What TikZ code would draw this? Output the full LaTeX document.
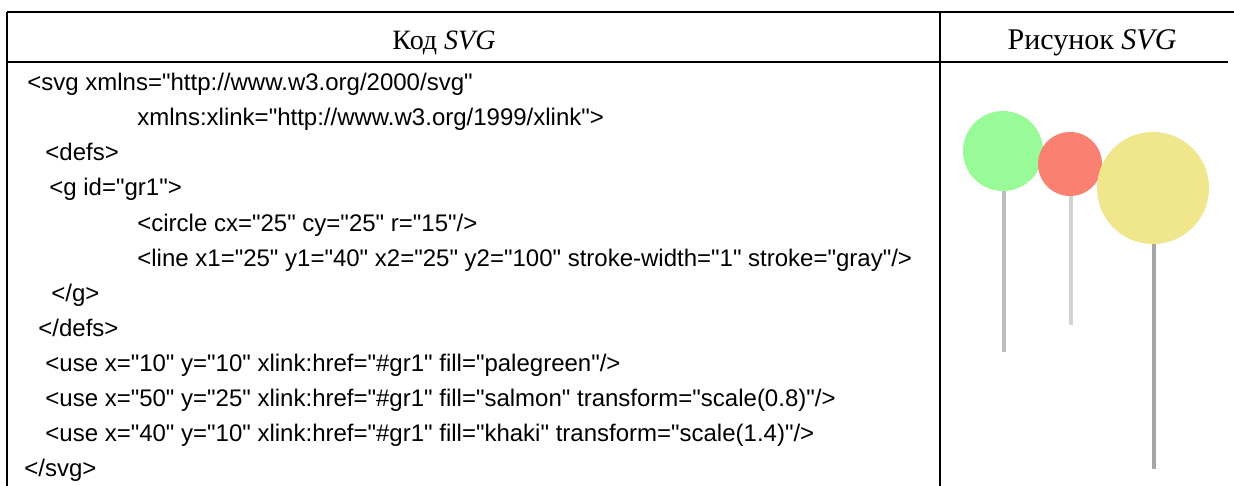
\documentclass[tikz,border=0pt]{standalone}
\usepackage{fontspec}
\setmainfont{Liberation Serif}
\newfontfamily\codefont{Liberation Sans}
\definecolor{palegreenc}{HTML}{98FB98}
\definecolor{salmonc}{HTML}{FA8072}
\definecolor{khakic}{HTML}{F0E68C}
\definecolor{stemA}{HTML}{BDBDBD}
\definecolor{stemB}{HTML}{D2D2D2}
\definecolor{stemC}{HTML}{A6A6A6}
\tikzset{
  rule/.style={line width=1.1pt, black},
  thinrule/.style={line width=0.6pt, black},
  codeline/.style={anchor=base west, inner sep=0pt, font=\codefont\fontsize{12pt}{14pt}\selectfont},
  headtext/.style={anchor=base, inner sep=0pt, font=\fontsize{14pt}{16pt}\selectfont},
}
\begin{document}
\begin{tikzpicture}[x=0.5pt,y=-0.5pt]
\useasboundingbox (0,0) rectangle (1234,486);
\fill[white] (0,0) rectangle (1234,486);
% table rules
\draw[rule] (7,12) -- (1234,12);
\draw[rule] (7,62) -- (956,62);
\draw[thinrule] (956,62) -- (1228,62);
\draw[rule] (7,12) -- (7,486);
\draw[rule] (940,12) -- (940,486);
% headers
\node[headtext] (h1) at (444,50) {Код \textit{SVG}};
\node[headtext, font=\fontsize{15pt}{17pt}\selectfont] (h2) at (1092,50) {Рисунок \textit{SVG}};
% code
\node[codeline] (c1)  at (27,91)  {<svg xmlns="http://www.w3.org/2000/svg"};
\node[codeline] (c2)  at (137,126) {xmlns:xlink="http://www.w3.org/1999/xlink">};
\node[codeline] (c3)  at (45,161) {<defs>};
\node[codeline] (c4)  at (49,196) {<g id="gr1">};
\node[codeline] (c5)  at (137,231) {<circle cx="25" cy="25" r="15"/>};
\node[codeline] (c6)  at (137,266) {<line x1="25" y1="40" x2="25" y2="100" stroke-width="1" stroke="gray"/>};
\node[codeline] (c7)  at (51,301) {</g>};
\node[codeline] (c8)  at (38,336) {</defs>};
\node[codeline] (c9)  at (45,371) {<use x="10" y="10" xlink:href="\#gr1" fill="palegreen"/>};
\node[codeline] (c10) at (45,406) {<use x="50" y="25" xlink:href="\#gr1" fill="salmon" transform="scale(0.8)"/>};
\node[codeline] (c11) at (45,441) {<use x="40" y="10" xlink:href="\#gr1" fill="khaki" transform="scale(1.4)"/>};
\node[codeline] (c12) at (24,476) {</svg>};
% picture
\draw[stemA, line width=2pt] (1004,190) -- (1004,352);
\fill[palegreenc] (1003,151) circle [radius=40];
\draw[stemB, line width=1.7pt] (1071,194) -- (1071,325);
\fill[salmonc] (1070,164) circle [radius=32];
\draw[stemC, line width=2.3pt] (1154,242) -- (1154,469);
\fill[khakic] (1153,188) circle [radius=56];
\end{tikzpicture}
\end{document}
